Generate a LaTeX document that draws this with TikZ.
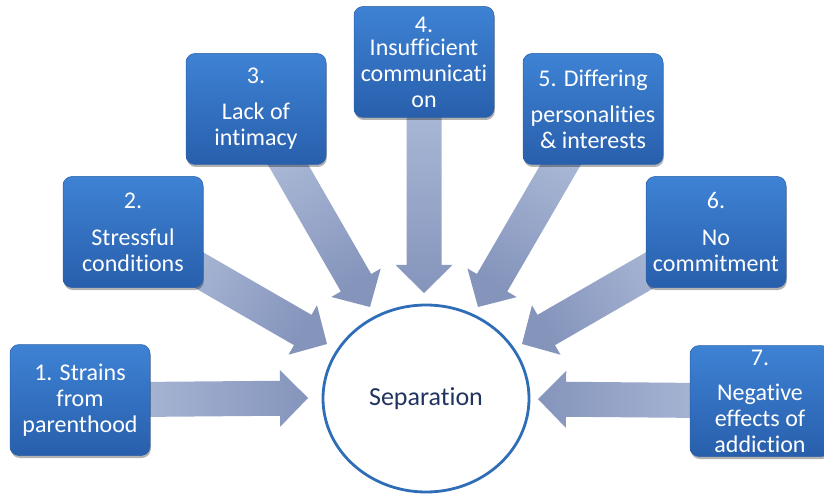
\documentclass[tikz,border=0pt]{standalone}
\usepackage{fontspec}
\setmainfont{Carlito}[Ligatures={NoCommon,NoContextual}, Contextuals=NoAlternate]
\usetikzlibrary{calc,shadows,shapes.geometric}

\definecolor{boxtop}{RGB}{62,130,212}
\definecolor{boxbot}{RGB}{40,95,172}
\definecolor{boxline}{RGB}{44,96,166}
\definecolor{arrtail}{RGB}{180,193,221}
\definecolor{arrhead}{RGB}{132,148,187}
\definecolor{ringblue}{RGB}{47,110,183}
\definecolor{sepnavy}{RGB}{33,52,96}

\pgfdeclarelayer{bg}
\pgfsetlayers{bg,main}

% keep "t" and "i" as separate glyphs
\newcommand\tsep{t\kern0pt i}

\tikzset{
  cause/.style={rectangle, rounded corners=9pt, minimum width=140pt,
    minimum height=111pt, inner sep=0pt, top color=boxtop, bottom color=boxbot,
    draw=boxline, line width=0.5pt, text=white, align=center,
    font=\fontsize{24}{26}\selectfont,
    drop shadow={shadow xshift=0.8pt, shadow yshift=-2.5pt, opacity=0.3, fill=black}},
  % wide block arrow: shaft 35pt, head 57pt wide and 28pt long
  fat arrow/.style={bottom color=arrtail, top color=arrhead, shading angle=#1,
    to path={let \p1=(\tikztostart), \p2=(\tikztotarget),
      \n1={atan2(\y2-\y1,\x2-\x1)}, \n2={veclen(\x2-\x1,\y2-\y1)-28pt} in
      ($(\p1)+(\n1+90:17.5pt)$)
      -- ($(\p1)+(\n1:\n2)+(\n1+90:17.5pt)$)
      -- ($(\p1)+(\n1:\n2)+(\n1+90:28.5pt)$)
      -- (\p2)
      -- ($(\p1)+(\n1:\n2)+(\n1-90:28.5pt)$)
      -- ($(\p1)+(\n1:\n2)+(\n1-90:17.5pt)$)
      -- ($(\p1)+(\n1-90:17.5pt)$) -- cycle}},
  ring/.style={ellipse, minimum width=206pt, minimum height=187pt, inner sep=0pt,
    draw=ringblue, line width=2.8pt, fill=white, text=sepnavy,
    font=\fontsize{26}{28}\selectfont}
}

\begin{document}
\begin{tikzpicture}[x=1pt,y=-1pt]
  \useasboundingbox (0,0) rectangle (824,494);
  \clip (0,0) rectangle (824,494);

  % cause boxes
  \node[cause] (b1) at (80,400) {1. Strains\\from\\parenthood};
  \node[cause] (b2) at (133,232) {2.\\[11pt]Stressful\\conditions};
  \node[cause] (b3) at (256,109) {3.\\[10pt]Lack of\\intimacy};
  \node[cause] (b4) at (424,62) {\raisebox{-3pt}{4.}\\Insufficient\\communica\tsep\\on};
  \node[cause] (b5) at (593,109) {5. Differing\\[10pt]personali\tsep es\\\& interests};
  \node[cause] (b6) at (716,232) {6.\\[11pt]No\\commitment};
  \node[cause] (b7) at (760,401) {7.\\[9pt]Negative\\effects of\\addiction};

  % central outcome
  \node[ring] (sep) at (426,398.5) {Separation};

  % arrow tips around the ring
  \coordinate (t1) at (308,398);
  \coordinate (t2) at (327,344);
  \coordinate (t3) at (370,307);
  \coordinate (t4) at (424,293);
  \coordinate (t5) at (478,307);
  \coordinate (t6) at (522,344);
  \coordinate (t7) at (538,399);

  \begin{pgfonlayer}{bg}
    \path[fat arrow=-90]  (b1.center) to (t1);
    \path[fat arrow=-120] (b2.center) to (t2);
    \path[fat arrow=-150] (b3.center) to (t3);
    \path[fat arrow=-180] (b4.center) to (t4);
    \path[fat arrow=-210] (b5.center) to (t5);
    \path[fat arrow=-240] (b6.center) to (t6);
    \path[fat arrow=90]   (b7.center) to (t7);
  \end{pgfonlayer}
\end{tikzpicture}
\end{document}
